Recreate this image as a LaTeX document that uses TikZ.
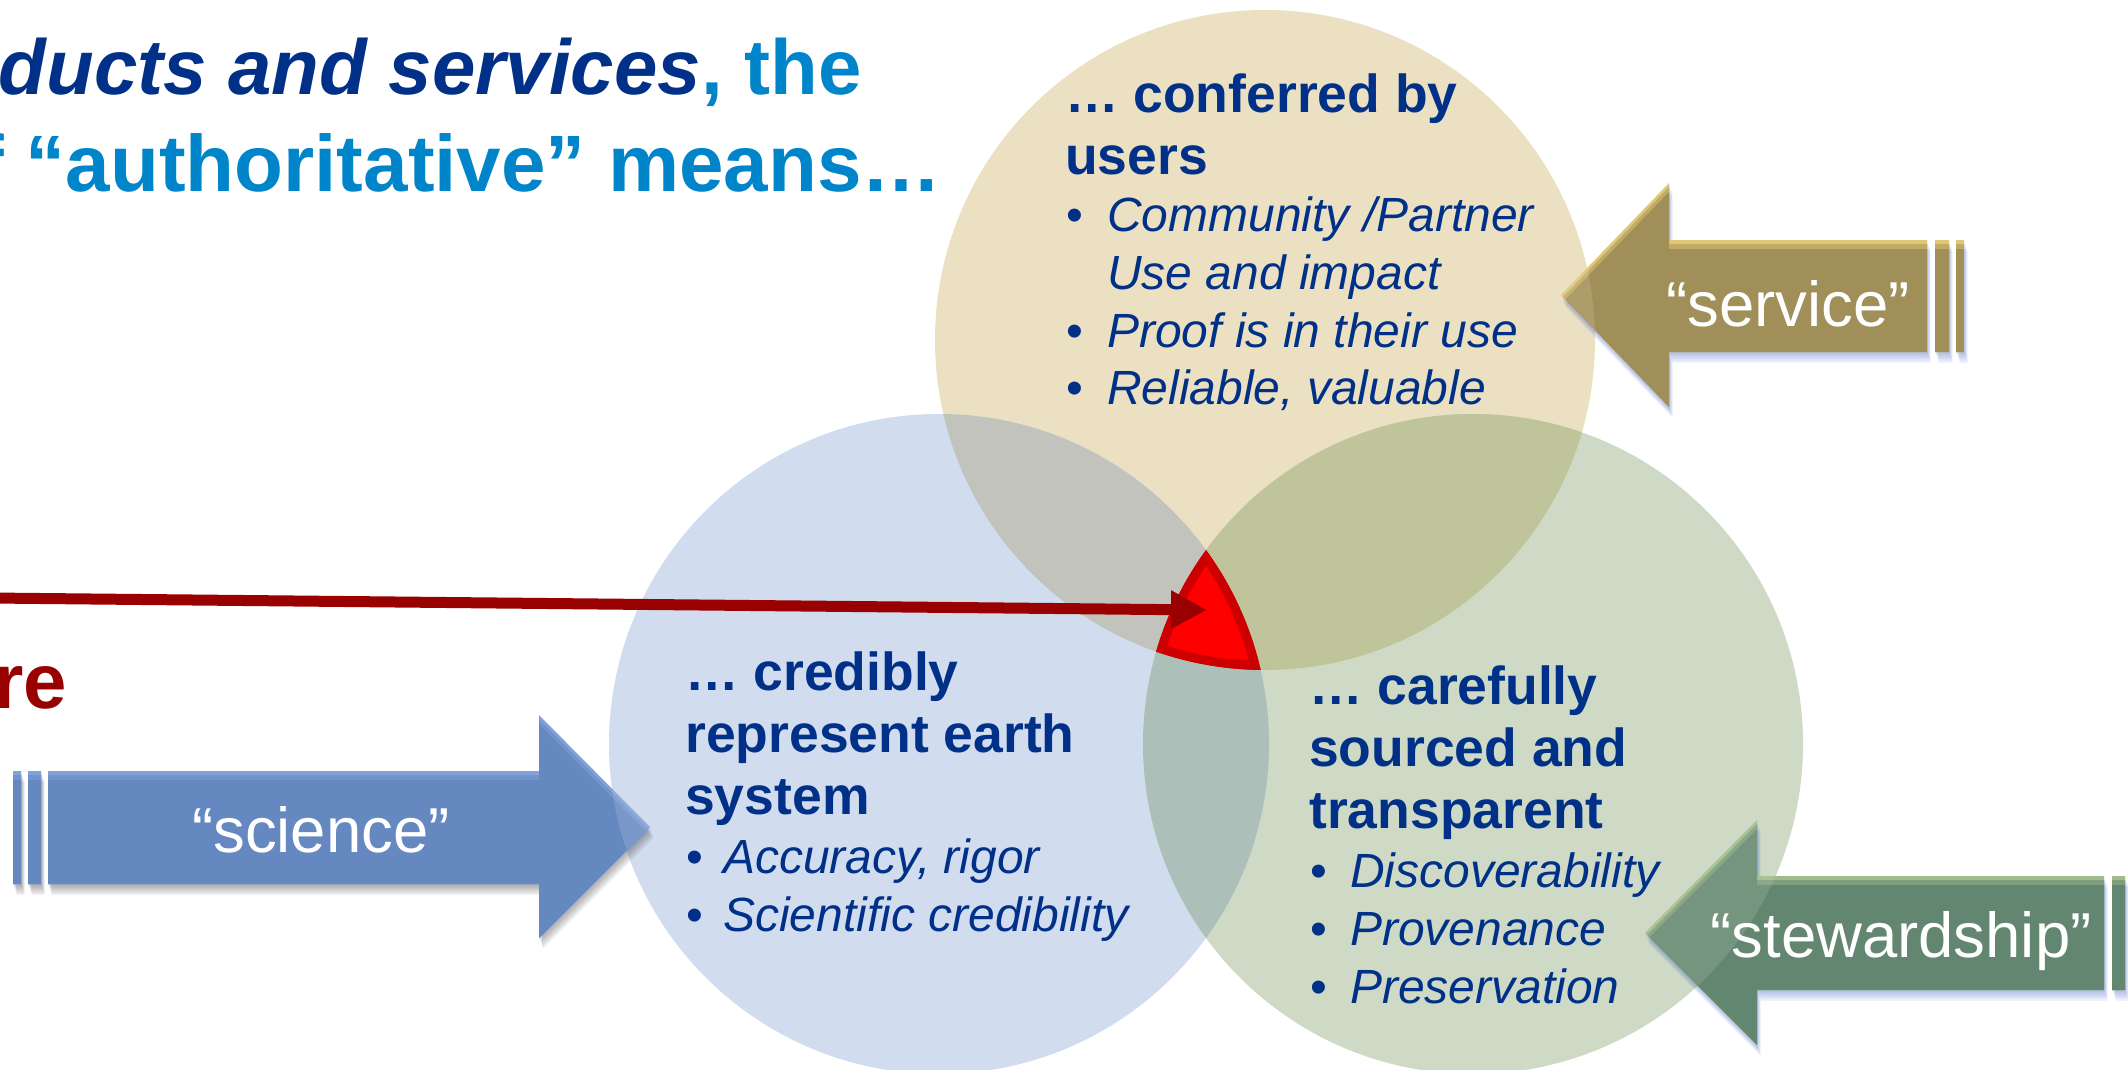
\documentclass[tikz,border=0pt]{standalone}
\usepackage{fontspec}
\setmainfont{Liberation Sans}
\usetikzlibrary{arrows.meta}

% text colours
\definecolor{navy}{RGB}{0,48,135}
\definecolor{skyblue}{RGB}{0,133,202}
\definecolor{darkred}{RGB}{153,0,0}
\definecolor{rimred}{RGB}{204,0,0}
% circle fills and their overlaps
\definecolor{tanfill}{RGB}{235,224,194}
\definecolor{bluefill}{RGB}{209,220,239}
\definecolor{greenfill}{RGB}{206,218,197}
\definecolor{tanblue}{RGB}{195,195,190}
\definecolor{tangreen}{RGB}{192,196,155}
\definecolor{bluegreen}{RGB}{172,192,185}
% block arrows
\definecolor{svcbase}{RGB}{160,143,88}
\definecolor{svcmid}{RGB}{192,170,100}
\definecolor{svclight}{RGB}{224,198,120}
\definecolor{scibase}{RGB}{102,136,192}
\definecolor{scimid}{RGB}{114,148,204}
\definecolor{scilight}{RGB}{130,162,218}
\definecolor{stwbase}{RGB}{98,134,112}
\definecolor{stwmid}{RGB}{126,158,124}
\definecolor{stwlight}{RGB}{160,188,140}
\definecolor{shadowblue}{RGB}{90,120,210}
\definecolor{shadowgray}{RGB}{80,80,80}

% outlines of the three block arrows (body, head, and the two thin bars)
\newcommand\svcshape{(1561,295) -- (1669,183) -- (1669,240) -- (1927,240) -- (1927,352) -- (1669,352) -- (1669,407) -- cycle (1935,240) rectangle (1949,352) (1956,240) rectangle (1964,352)}
\newcommand\scishape{(650,827) -- (539,715) -- (539,771) -- (48,771) -- (48,884) -- (539,884) -- (539,938) -- cycle (28,771) rectangle (41,884) (13,771) rectangle (21,884)}
\newcommand\stwshape{(1645,933) -- (1757,820) -- (1757,876) -- (2104,876) -- (2104,990) -- (1757,990) -- (1757,1045) -- cycle (2112,876) rectangle (2125,990) (2133,876) rectangle (2141,990)}

% soft shadow, highlighted top edge, and a slight tint where it lies on a circle
\newcommand\bigarrow[7]{%
  \foreach \k in {1,...,6}{\fill[#2, opacity=0.09, shift={(0.6*\k,1.8*\k)}] #1;}
  \fill[#3] #1;
  \begin{scope}
    \clip #1;
    \fill[#4, shift={(0,4)}] #1;
    \fill[#5, shift={(0,9)}] #1;
    \fill[#7, opacity=0.18] (#6) circle (330pt);
  \end{scope}
}

\tikzset{
  heading/.style={anchor=base west, inner sep=0pt, text=navy, font=\fontsize{53.5}{62}\selectfont\bfseries},
  itemtext/.style={anchor=base west, inner sep=0pt, text=navy, font=\fontsize{48}{58}\selectfont\itshape},
  bulletdot/.style={anchor=base west, inner sep=0pt, text=navy, font=\fontsize{48}{58}\selectfont},
  arrowlabel/.style={anchor=base, inner sep=0pt, text=white, font=\fontsize{63.5}{70}\selectfont},
}

\begin{document}
\begin{tikzpicture}[x=1pt,y=-1pt]
\useasboundingbox (0,0) rectangle (2128,1070);
\fill[white] (0,0) rectangle (2128,1070);
\clip (0,0) rectangle (2128,1070);

% circle centres
\coordinate (tanc) at (1265,340);
\coordinate (bluec) at (939,744);
\coordinate (greenc) at (1473,744);

% the three circles
\fill[tanfill] (tanc) circle (330pt);
\fill[bluefill] (bluec) circle (330pt);
\fill[greenfill] (greenc) circle (330pt);
% pairwise overlaps
\begin{scope}
  \clip (tanc) circle (330pt);
  \fill[tanblue] (bluec) circle (330pt);
  \fill[tangreen] (greenc) circle (330pt);
\end{scope}
\begin{scope}
  \clip (bluec) circle (330pt);
  \fill[bluegreen] (greenc) circle (330pt);
\end{scope}

% highlighted common region of all three circles
\begin{scope}
  \clip (tanc) circle (330pt);
  \clip (bluec) circle (330pt);
  \clip (greenc) circle (330pt);
  \fill[red] (tanc) circle (330pt);
  \draw[rimred, line width=18pt] (tanc) circle (330pt) (bluec) circle (330pt) (greenc) circle (330pt);
\end{scope}

% block arrows
\bigarrow{\svcshape}{shadowblue}{svclight}{svcmid}{svcbase}{tanc}{tanfill}
\bigarrow{\scishape}{shadowgray}{scilight}{scimid}{scibase}{bluec}{bluefill}
\bigarrow{\stwshape}{shadowblue}{stwlight}{stwmid}{stwbase}{greenc}{greenfill}

\node[arrowlabel] (svclabel) at (1788,326) {“service”};
\node[arrowlabel] (scilabel) at (321,852) {“science”};
\node[arrowlabel] (stwlabel) at (1901,957) {“stewardship”};

% heading lines
\node[anchor=base west, inner sep=0pt, font=\fontsize{78}{94}\selectfont\bfseries] (title1) at (-127,95)
  {\textcolor{navy}{\itshape products and services}\textcolor{skyblue}{, the}};
\node[anchor=base west, inner sep=0pt, font=\fontsize{80}{94}\selectfont\bfseries, text=skyblue] (title2) at (-72,191)
  {of “authoritative” means…};
\node[anchor=base east, inner sep=0pt, font=\fontsize{78}{94}\selectfont\bfseries, text=darkred] (redword) at (67,708) {re};

% users circle
\node[heading] (tanA) at (1065,113) {… conferred by};
\node[heading] (tanB) at (1065,174) {users};
\node[bulletdot] (tanC0) at (1066,231) {•};
\node[itemtext] (tanC) at (1107,231) {Community /Partner};
\node[itemtext] (tanD) at (1107,289) {Use and impact};
\node[bulletdot] (tanE0) at (1066,347) {•};
\node[itemtext] (tanE) at (1107,347) {Proof is in their use};
\node[bulletdot] (tanF0) at (1066,404) {•};
\node[itemtext] (tanF) at (1107,404) {Reliable, valuable};

% science circle
\node[heading] (blueA) at (685,690) {… credibly};
\node[heading] (blueB) at (685,752) {represent earth};
\node[heading] (blueC) at (685,814) {system};
\node[bulletdot] (blueD0) at (686,873) {•};
\node[itemtext] (blueD) at (723,873) {Accuracy, rigor};
\node[bulletdot] (blueE0) at (686,931) {•};
\node[itemtext] (blueE) at (723,931) {Scientific credibility};

% stewardship circle
\node[heading] (greenA) at (1309,704) {… carefully};
\node[heading] (greenB) at (1309,766) {sourced and};
\node[heading] (greenC) at (1309,828) {transparent};
\node[bulletdot] (greenD0) at (1310,887) {•};
\node[itemtext] (greenD) at (1350,887) {Discoverability};
\node[bulletdot] (greenE0) at (1310,945) {•};
\node[itemtext] (greenE) at (1350,945) {Provenance};
\node[bulletdot] (greenF0) at (1310,1003) {•};
\node[itemtext] (greenF) at (1350,1003) {Preservation};

% pointer into the common region
\coordinate (pointerstart) at (-10,598);
\coordinate (pointertip) at (1207,610);
\draw[darkred, line width=11pt, -{Triangle[length=36pt,width=36pt]}] (pointerstart) -- (pointertip);
\end{tikzpicture}
\end{document}
